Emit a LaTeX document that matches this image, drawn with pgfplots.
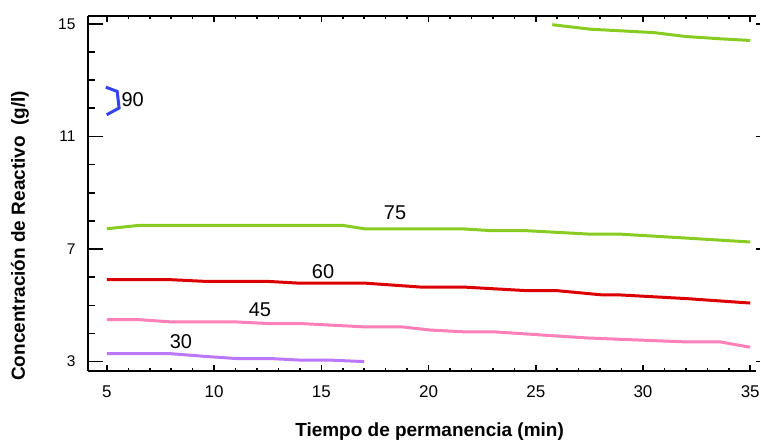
\documentclass[border=0pt]{standalone}
\usepackage{fontspec}
\setmainfont{Liberation Sans}
\usepackage{pgfplots}
\pgfplotsset{compat=1.18}
\definecolor{cblue}{HTML}{3344EE}
\definecolor{cgreen}{HTML}{88CC22}
\definecolor{cred}{HTML}{DD0000}
\definecolor{cpink}{HTML}{FF80B8}
\definecolor{cpurple}{HTML}{BB77FF}
\pgfplotsset{
  common/.style={
    scale only axis, width=669pt, height=355pt,
    xmin=4.115, xmax=35.28, ymin=2.68, ymax=15.28,
    at={(0,0)}, anchor=south west,
    axis line style={line width=2pt},
    every tick/.style={black, line width=1.6pt},
    /pgf/number format/assume math mode=true,
    clip=false,
  }
}
\begin{document}
\begin{tikzpicture}
\path (-88pt,-71pt) rectangle (673pt,371pt);
% x axis + data
\begin{axis}[common,
  axis x line*=box, axis y line*=left,
  ytick=\empty,
  xtick={5,10,...,35}, minor x tick num=4,
  major tick length=6pt, minor tick length=3pt,
  tick align=inside,
  xticklabel style={font=\fontsize{17}{17}\selectfont, yshift=-12pt, overlay},
]
\addplot[cgreen, line width=3pt] coordinates {
(5,7.72) (6.5,7.84) (10,7.84) (13,7.84) (16,7.84) (17,7.72) (21.5,7.72) (23,7.65) (24.6,7.65) (27.5,7.53) (28.9,7.53) (32,7.39) (35,7.25)};
\addplot[cred, line width=3pt] coordinates {
(5,5.91) (6.5,5.91) (8,5.91) (9.6,5.85) (12.5,5.85) (13.9,5.79) (17,5.79) (19.6,5.65) (21.6,5.65) (24.6,5.52) (26,5.52) (28.1,5.37) (28.9,5.37) (32,5.24) (35,5.08)};
\addplot[cpink, line width=3pt] coordinates {
(5,4.49) (6.5,4.49) (8,4.41) (11,4.41) (12.6,4.35) (14.1,4.35) (17.1,4.23) (18.8,4.23) (20.1,4.12) (21.6,4.06) (23,4.06) (27.4,3.84) (32,3.70) (33.6,3.70) (35,3.51)};
\addplot[cpurple, line width=3pt] coordinates {
(5,3.28) (6.5,3.28) (8,3.28) (9.5,3.19) (11,3.11) (12.6,3.11) (14.1,3.05) (15.5,3.05) (17,3.0)};
\addplot[cgreen, line width=3pt] coordinates {
(25.77,14.97) (27.55,14.81) (30.5,14.69) (32,14.55) (33.6,14.47) (35,14.41)};
\addplot[cblue, line width=3pt] coordinates {
(4.95,12.75) (5.48,12.60) (5.57,12.01) (4.99,11.77)};
\node[font=\fontsize{20}{20}\selectfont] at (axis cs:6.2,12.3) {90};
\node[font=\fontsize{20}{20}\selectfont] at (axis cs:18.44,8.29) {75};
\node[font=\fontsize{20}{20}\selectfont] at (axis cs:15.08,6.2) {60};
\node[font=\fontsize{20}{20}\selectfont] at (axis cs:12.14,4.85) {45};
\node[font=\fontsize{20}{20}\selectfont] at (axis cs:8.45,3.71) {30};
\end{axis}
% left y ticks
\begin{axis}[common,
  axis y line*=left, axis x line=none,
  ytick={3,7,11,15}, minor y tick num=3,
  major tick length=15pt, minor tick length=7pt,
  tick align=inside,
  yticklabel style={font=\fontsize{15.5}{15.5}\selectfont, xshift=-9pt, overlay},
]
\end{axis}
% right y ticks
\begin{axis}[common,
  axis y line*=right, axis x line=none,
  y axis line style={draw=none},
  ytick={3,7,11,15}, yticklabels={},
  yticklabel style={overlay},
  major tick length=4pt, tick align=outside,
]
\end{axis}
\node[inner sep=0pt, font=\bfseries\fontsize{19}{19}\selectfont] at (342pt,-61pt) {Tiempo de permanencia (min)};
\node[inner sep=0pt, font=\bfseries\fontsize{19}{19}\selectfont, rotate=90] at (-68pt,135pt) {Concentración de Reactivo\ \ (g/l)};
\end{tikzpicture}
\end{document}
